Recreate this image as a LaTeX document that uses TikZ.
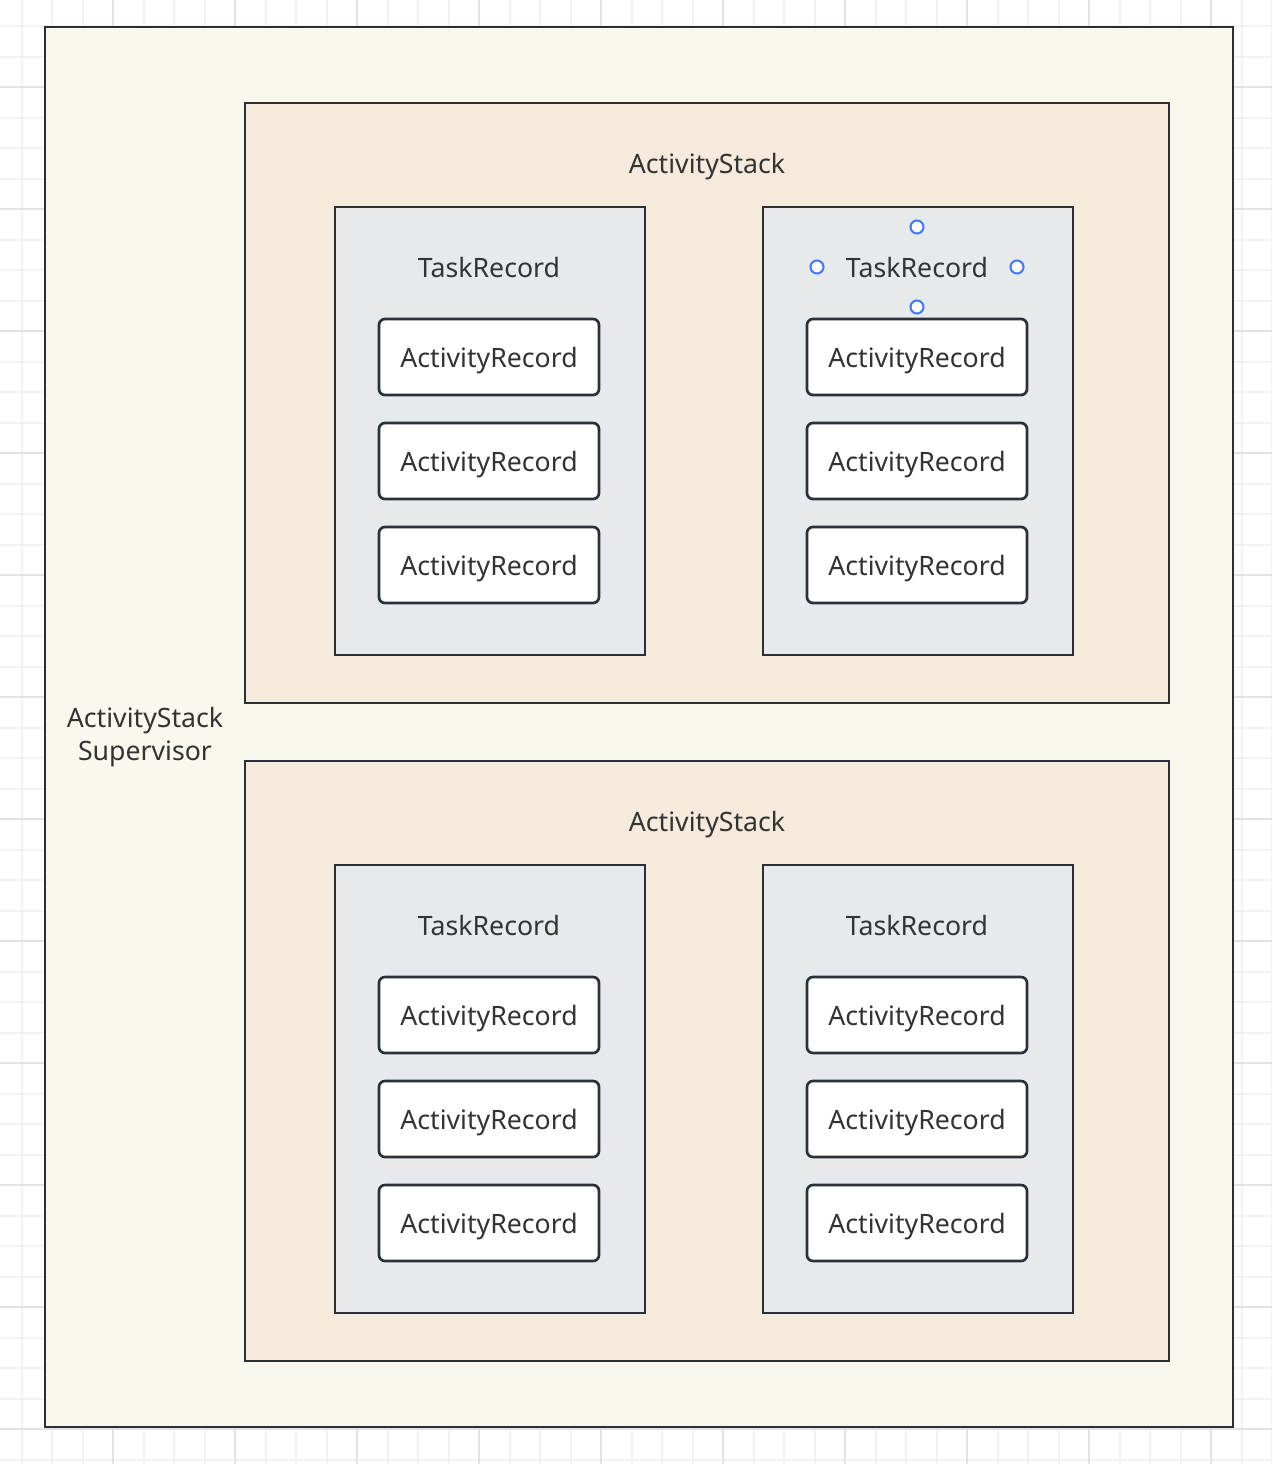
\documentclass[tikz,border=0pt]{standalone}
\usepackage{fontspec}
\setmainfont{Noto Sans}
\begin{document}
\begin{tikzpicture}[x=0.75pt,y=-0.75pt,
  every node/.style={font=\fontsize{20}{25}\selectfont, text=txtgray, inner sep=0pt},
  txt/.style={text height=20.5pt, text depth=5pt},
  outerbox/.style={draw=edge, line width=2pt, fill=cream, minimum width=1188*0.75pt, minimum height=1400*0.75pt},
  stackbox/.style={draw=edge, line width=2pt, fill=stackfill, minimum width=924*0.75pt, minimum height=600*0.75pt},
  taskbox/.style={draw=edge, line width=2pt, fill=taskfill, minimum width=310*0.75pt, minimum height=448*0.75pt},
  recbox/.style={txt, draw=edge, line width=2pt, fill=white, rounded corners=4.5pt, minimum width=220*0.75pt, minimum height=76*0.75pt},
  handle/.style={circle, draw=handleblue, line width=1.6pt, fill=white, minimum size=13*0.75pt}
]
\definecolor{edge}{HTML}{2B3036}
\definecolor{cream}{HTML}{FAF8EC}
\definecolor{stackfill}{HTML}{F5EADB}
\definecolor{taskfill}{HTML}{E7EAED}
\definecolor{txtgray}{HTML}{333333}
\definecolor{handleblue}{HTML}{4A7BF0}
\definecolor{gridminor}{HTML}{F2F2F2}
\definecolor{gridmajor}{HTML}{E3E3E3}

\useasboundingbox (0,0) rectangle (1272,1464);
\fill[white] (0,0) rectangle (1272,1464);

% background grid
\begin{scope}
\clip (0,0) rectangle (1272,1464);
\foreach \k in {-4,...,38}{
  \pgfmathsetmacro{\gx}{113+30.5*\k}
  \draw[gridminor, line width=1.5pt] (\gx,0) -- (\gx,1464);
}
\foreach \k in {-3,...,45}{
  \pgfmathsetmacro{\gy}{87+30.5*\k}
  \draw[gridminor, line width=1.5pt] (0,\gy) -- (1272,\gy);
}
\foreach \k in {-1,...,9}{
  \pgfmathsetmacro{\gx}{113+122*\k}
  \draw[gridmajor, line width=1.5pt] (\gx,0) -- (\gx,1464);
}
\foreach \k in {-1,...,11}{
  \pgfmathsetmacro{\gy}{87+122*\k}
  \draw[gridmajor, line width=1.5pt] (0,\gy) -- (1272,\gy);
}
\end{scope}

% supervisor frame
\node[outerbox] (sup) at (639,727) {};
\node[align=center] (suplbl) at (145,737) {ActivityStack\\Supervisor};

% two stacks
\foreach \s/\cy in {1/403, 2/1061}{
  \node[stackbox] (stack\s) at (707,\cy) {};
  \node[txt] (stack\s lbl) at (707,\cy-240) {ActivityStack};
  \foreach \t/\cx in {1/490, 2/918}{
    \node[taskbox] (task\s\t) at (\cx,\cy+28) {};
    \node[txt] (task\s\t lbl) at (\cx-1,\cy-136) {TaskRecord};
    \foreach \r/\dy in {1/-46, 2/58, 3/162}{
      \node[recbox] (rec\s\t\r) at (\cx-1,\cy+\dy) {ActivityRecord};
    }
  }
}

% selection handles around the label
\node[handle] (hn) at (917,227) {};
\node[handle] (hw) at (817,267) {};
\node[handle] (he) at (1017,267) {};
\node[handle] (hs) at (917,307) {};
\end{tikzpicture}
\end{document}
